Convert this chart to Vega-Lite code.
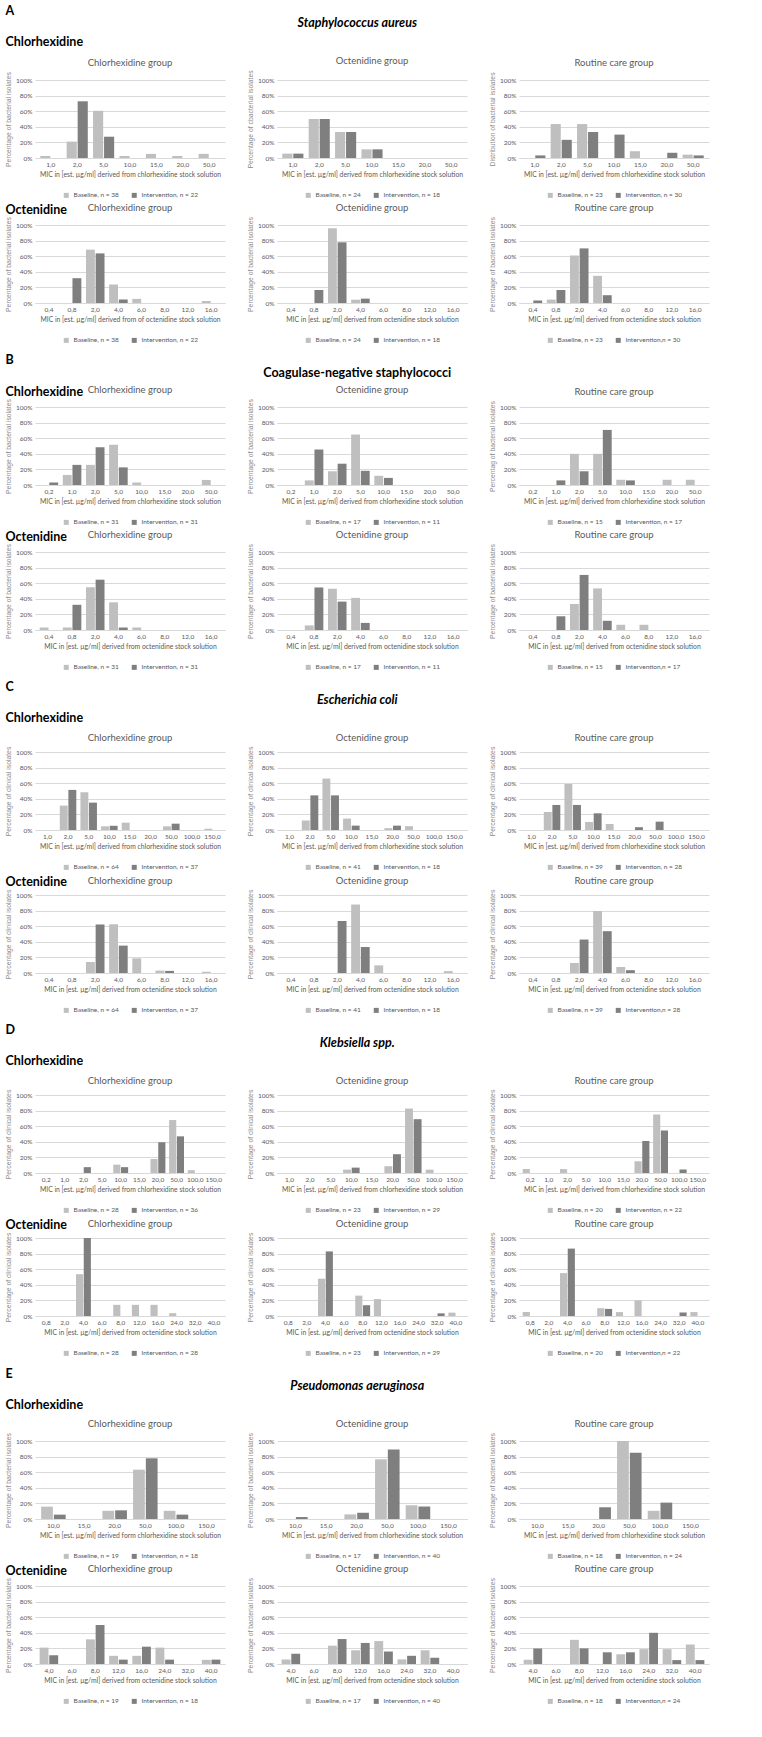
{
"$schema":"https://vega.github.io/schema/vega-lite/v6.json",
"padding":{"left":5,"top":4,"right":5,"bottom":2},
"background":"white",
"data":{"values":[
{"p":"A1a","m":"1,0","s":"Baseline, n = 38","v":2.6},{"p":"A1a","m":"2,0","s":"Baseline, n = 38","v":21},{"p":"A1a","m":"5,0","s":"Baseline, n = 38","v":60.5},{"p":"A1a","m":"10,0","s":"Baseline, n = 38","v":2.6},{"p":"A1a","m":"15,0","s":"Baseline, n = 38","v":5.3},{"p":"A1a","m":"20,0","s":"Baseline, n = 38","v":2.6},{"p":"A1a","m":"50,0","s":"Baseline, n = 38","v":5.3},
{"p":"A1a","m":"2,0","s":"Intervention, n = 22","v":72.7},{"p":"A1a","m":"5,0","s":"Intervention, n = 22","v":27.3},
{"p":"A1b","m":"1,0","s":"Baseline, n = 24","v":5.6},{"p":"A1b","m":"2,0","s":"Baseline, n = 24","v":50},{"p":"A1b","m":"5,0","s":"Baseline, n = 24","v":33.3},{"p":"A1b","m":"10,0","s":"Baseline, n = 24","v":11.1},
{"p":"A1b","m":"1,0","s":"Intervention, n = 18","v":5.6},{"p":"A1b","m":"2,0","s":"Intervention, n = 18","v":50},{"p":"A1b","m":"5,0","s":"Intervention, n = 18","v":33.3},{"p":"A1b","m":"10,0","s":"Intervention, n = 18","v":11.1},
{"p":"A1c","m":"2,0","s":"Baseline, n = 23","v":43.5},{"p":"A1c","m":"5,0","s":"Baseline, n = 23","v":43.5},{"p":"A1c","m":"15,0","s":"Baseline, n = 23","v":8.7},{"p":"A1c","m":"50,0","s":"Baseline, n = 23","v":4.3},
{"p":"A1c","m":"1,0","s":"Intervention, n = 30","v":3.3},{"p":"A1c","m":"2,0","s":"Intervention, n = 30","v":23.3},{"p":"A1c","m":"5,0","s":"Intervention, n = 30","v":33.3},{"p":"A1c","m":"10,0","s":"Intervention, n = 30","v":30},{"p":"A1c","m":"20,0","s":"Intervention, n = 30","v":6.7},{"p":"A1c","m":"50,0","s":"Intervention, n = 30","v":3.3},
{"p":"A2a","m":"2,0","s":"Baseline, n = 38","v":68.4},{"p":"A2a","m":"4,0","s":"Baseline, n = 38","v":23.7},{"p":"A2a","m":"6,0","s":"Baseline, n = 38","v":5.3},{"p":"A2a","m":"16,0","s":"Baseline, n = 38","v":2.6},
{"p":"A2a","m":"0,8","s":"Intervention, n = 22","v":31.8},{"p":"A2a","m":"2,0","s":"Intervention, n = 22","v":63.6},{"p":"A2a","m":"4,0","s":"Intervention, n = 22","v":4.5},
{"p":"A2b","m":"2,0","s":"Baseline, n = 24","v":95.8},{"p":"A2b","m":"4,0","s":"Baseline, n = 24","v":4.2},
{"p":"A2b","m":"0,8","s":"Intervention, n = 18","v":16.7},{"p":"A2b","m":"2,0","s":"Intervention, n = 18","v":77.8},{"p":"A2b","m":"4,0","s":"Intervention, n = 18","v":5.6},
{"p":"A2c","m":"0,8","s":"Baseline, n = 23","v":4.3},{"p":"A2c","m":"2,0","s":"Baseline, n = 23","v":60.9},{"p":"A2c","m":"4,0","s":"Baseline, n = 23","v":34.8},
{"p":"A2c","m":"0,4","s":"Intervention,n = 30","v":3.3},{"p":"A2c","m":"0,8","s":"Intervention,n = 30","v":16.7},{"p":"A2c","m":"2,0","s":"Intervention,n = 30","v":70},{"p":"A2c","m":"4,0","s":"Intervention,n = 30","v":10},
{"p":"B1a","m":"1,0","s":"Baseline, n = 31","v":12.9},{"p":"B1a","m":"2,0","s":"Baseline, n = 31","v":25.8},{"p":"B1a","m":"5,0","s":"Baseline, n = 31","v":51.6},{"p":"B1a","m":"10,0","s":"Baseline, n = 31","v":3.2},{"p":"B1a","m":"50,0","s":"Baseline, n = 31","v":6.5},
{"p":"B1a","m":"0,2","s":"Intervention, n = 31","v":3.2},{"p":"B1a","m":"1,0","s":"Intervention, n = 31","v":25.8},{"p":"B1a","m":"2,0","s":"Intervention, n = 31","v":48.4},{"p":"B1a","m":"5,0","s":"Intervention, n = 31","v":22.6},
{"p":"B1b","m":"1,0","s":"Baseline, n = 17","v":5.9},{"p":"B1b","m":"2,0","s":"Baseline, n = 17","v":17.6},{"p":"B1b","m":"5,0","s":"Baseline, n = 17","v":64.7},{"p":"B1b","m":"10,0","s":"Baseline, n = 17","v":11.8},
{"p":"B1b","m":"1,0","s":"Intervention, n = 11","v":45.5},{"p":"B1b","m":"2,0","s":"Intervention, n = 11","v":27.3},{"p":"B1b","m":"5,0","s":"Intervention, n = 11","v":18.2},{"p":"B1b","m":"10,0","s":"Intervention, n = 11","v":9.1},
{"p":"B1c","m":"2,0","s":"Baseline, n = 15","v":40},{"p":"B1c","m":"5,0","s":"Baseline, n = 15","v":40},{"p":"B1c","m":"10,0","s":"Baseline, n = 15","v":6.7},{"p":"B1c","m":"20,0","s":"Baseline, n = 15","v":6.7},{"p":"B1c","m":"50,0","s":"Baseline, n = 15","v":6.7},
{"p":"B1c","m":"1,0","s":"Intervention, n = 17","v":5.9},{"p":"B1c","m":"2,0","s":"Intervention, n = 17","v":17.6},{"p":"B1c","m":"5,0","s":"Intervention, n = 17","v":70.6},{"p":"B1c","m":"10,0","s":"Intervention, n = 17","v":5.9},
{"p":"B2a","m":"0,4","s":"Baseline, n = 31","v":3.2},{"p":"B2a","m":"0,8","s":"Baseline, n = 31","v":3.2},{"p":"B2a","m":"2,0","s":"Baseline, n = 31","v":54.8},{"p":"B2a","m":"4,0","s":"Baseline, n = 31","v":35.5},{"p":"B2a","m":"6,0","s":"Baseline, n = 31","v":3.2},
{"p":"B2a","m":"0,8","s":"Intervention, n = 31","v":32.3},{"p":"B2a","m":"2,0","s":"Intervention, n = 31","v":64.5},{"p":"B2a","m":"4,0","s":"Intervention, n = 31","v":3.2},
{"p":"B2b","m":"0,8","s":"Baseline, n = 17","v":5.9},{"p":"B2b","m":"2,0","s":"Baseline, n = 17","v":52.9},{"p":"B2b","m":"4,0","s":"Baseline, n = 17","v":41.2},
{"p":"B2b","m":"0,8","s":"Intervention, n = 11","v":54.5},{"p":"B2b","m":"2,0","s":"Intervention, n = 11","v":36.4},{"p":"B2b","m":"4,0","s":"Intervention, n = 11","v":9.1},
{"p":"B2c","m":"2,0","s":"Baseline, n = 15","v":33.3},{"p":"B2c","m":"4,0","s":"Baseline, n = 15","v":53.3},{"p":"B2c","m":"6,0","s":"Baseline, n = 15","v":6.7},{"p":"B2c","m":"8,0","s":"Baseline, n = 15","v":6.7},
{"p":"B2c","m":"0,8","s":"Intervention,n = 17","v":17.6},{"p":"B2c","m":"2,0","s":"Intervention,n = 17","v":70.6},{"p":"B2c","m":"4,0","s":"Intervention,n = 17","v":11.8},
{"p":"C1a","m":"2,0","s":"Baseline, n = 64","v":31.3},{"p":"C1a","m":"5,0","s":"Baseline, n = 64","v":48.4},{"p":"C1a","m":"10,0","s":"Baseline, n = 64","v":4.7},{"p":"C1a","m":"15,0","s":"Baseline, n = 64","v":9.4},{"p":"C1a","m":"50,0","s":"Baseline, n = 64","v":4.7},{"p":"C1a","m":"150,0","s":"Baseline, n = 64","v":1.6},
{"p":"C1a","m":"2,0","s":"Intervention, n = 37","v":51.4},{"p":"C1a","m":"5,0","s":"Intervention, n = 37","v":35.1},{"p":"C1a","m":"10,0","s":"Intervention, n = 37","v":5.4},{"p":"C1a","m":"50,0","s":"Intervention, n = 37","v":8.1},
{"p":"C1b","m":"2,0","s":"Baseline, n = 41","v":12.2},{"p":"C1b","m":"5,0","s":"Baseline, n = 41","v":65.9},{"p":"C1b","m":"10,0","s":"Baseline, n = 41","v":14.6},{"p":"C1b","m":"20,0","s":"Baseline, n = 41","v":2.4},{"p":"C1b","m":"50,0","s":"Baseline, n = 41","v":4.9},
{"p":"C1b","m":"2,0","s":"Intervention, n = 18","v":44.4},{"p":"C1b","m":"5,0","s":"Intervention, n = 18","v":44.4},{"p":"C1b","m":"10,0","s":"Intervention, n = 18","v":5.6},{"p":"C1b","m":"20,0","s":"Intervention, n = 18","v":5.6},
{"p":"C1c","m":"2,0","s":"Baseline, n = 39","v":23.1},{"p":"C1c","m":"5,0","s":"Baseline, n = 39","v":59},{"p":"C1c","m":"10,0","s":"Baseline, n = 39","v":10.3},{"p":"C1c","m":"15,0","s":"Baseline, n = 39","v":7.7},
{"p":"C1c","m":"2,0","s":"Intervention, n = 28","v":32.1},{"p":"C1c","m":"5,0","s":"Intervention, n = 28","v":32.1},{"p":"C1c","m":"10,0","s":"Intervention, n = 28","v":21.4},{"p":"C1c","m":"20,0","s":"Intervention, n = 28","v":3.6},{"p":"C1c","m":"50,0","s":"Intervention, n = 28","v":10.7},
{"p":"C2a","m":"2,0","s":"Baseline, n = 64","v":14.1},{"p":"C2a","m":"4,0","s":"Baseline, n = 64","v":62.5},{"p":"C2a","m":"6,0","s":"Baseline, n = 64","v":18.8},{"p":"C2a","m":"8,0","s":"Baseline, n = 64","v":3.1},{"p":"C2a","m":"16,0","s":"Baseline, n = 64","v":1.6},
{"p":"C2a","m":"2,0","s":"Intervention, n = 37","v":62.2},{"p":"C2a","m":"4,0","s":"Intervention, n = 37","v":35.1},{"p":"C2a","m":"8,0","s":"Intervention, n = 37","v":2.7},
{"p":"C2b","m":"4,0","s":"Baseline, n = 41","v":87.8},{"p":"C2b","m":"6,0","s":"Baseline, n = 41","v":9.8},{"p":"C2b","m":"16,0","s":"Baseline, n = 41","v":2.4},
{"p":"C2b","m":"2,0","s":"Intervention, n = 18","v":66.7},{"p":"C2b","m":"4,0","s":"Intervention, n = 18","v":33.3},
{"p":"C2c","m":"2,0","s":"Baseline, n = 39","v":12.8},{"p":"C2c","m":"4,0","s":"Baseline, n = 39","v":79.5},{"p":"C2c","m":"6,0","s":"Baseline, n = 39","v":7.7},
{"p":"C2c","m":"2,0","s":"Intervention,n = 28","v":42.9},{"p":"C2c","m":"4,0","s":"Intervention,n = 28","v":53.6},{"p":"C2c","m":"6,0","s":"Intervention,n = 28","v":3.6},
{"p":"D1a","m":"10,0","s":"Baseline, n = 28","v":10.7},{"p":"D1a","m":"20,0","s":"Baseline, n = 28","v":17.9},{"p":"D1a","m":"50,0","s":"Baseline, n = 28","v":67.9},{"p":"D1a","m":"100,0","s":"Baseline, n = 28","v":3.6},
{"p":"D1a","m":"2,0","s":"Intervention, n = 36","v":7.5},{"p":"D1a","m":"10,0","s":"Intervention, n = 36","v":7.5},{"p":"D1a","m":"20,0","s":"Intervention, n = 36","v":39.5},{"p":"D1a","m":"50,0","s":"Intervention, n = 36","v":47},
{"p":"D1b","m":"10,0","s":"Baseline, n = 23","v":4.3},{"p":"D1b","m":"20,0","s":"Baseline, n = 23","v":8.7},{"p":"D1b","m":"50,0","s":"Baseline, n = 23","v":82.6},{"p":"D1b","m":"100,0","s":"Baseline, n = 23","v":4.3},
{"p":"D1b","m":"10,0","s":"Intervention, n = 29","v":6.9},{"p":"D1b","m":"20,0","s":"Intervention, n = 29","v":24.1},{"p":"D1b","m":"50,0","s":"Intervention, n = 29","v":69},
{"p":"D1c","m":"0,2","s":"Baseline, n = 20","v":5},{"p":"D1c","m":"2,0","s":"Baseline, n = 20","v":5},{"p":"D1c","m":"20,0","s":"Baseline, n = 20","v":15},{"p":"D1c","m":"50,0","s":"Baseline, n = 20","v":75},
{"p":"D1c","m":"20,0","s":"Intervention, n = 22","v":40.9},{"p":"D1c","m":"50,0","s":"Intervention, n = 22","v":54.5},{"p":"D1c","m":"100,0","s":"Intervention, n = 22","v":4.5},
{"p":"D2a","m":"4,0","s":"Baseline, n = 28","v":53.6},{"p":"D2a","m":"8,0","s":"Baseline, n = 28","v":14.3},{"p":"D2a","m":"12,0","s":"Baseline, n = 28","v":14.3},{"p":"D2a","m":"16,0","s":"Baseline, n = 28","v":14.3},{"p":"D2a","m":"24,0","s":"Baseline, n = 28","v":3.6},
{"p":"D2a","m":"4,0","s":"Intervention, n = 28","v":100},
{"p":"D2b","m":"4,0","s":"Baseline, n = 23","v":47.8},{"p":"D2b","m":"8,0","s":"Baseline, n = 23","v":26.1},{"p":"D2b","m":"12,0","s":"Baseline, n = 23","v":21.7},{"p":"D2b","m":"40,0","s":"Baseline, n = 23","v":4.3},
{"p":"D2b","m":"4,0","s":"Intervention, n = 29","v":82.8},{"p":"D2b","m":"8,0","s":"Intervention, n = 29","v":13.8},{"p":"D2b","m":"32,0","s":"Intervention, n = 29","v":3.4},
{"p":"D2c","m":"0,8","s":"Baseline, n = 20","v":5},{"p":"D2c","m":"4,0","s":"Baseline, n = 20","v":55},{"p":"D2c","m":"8,0","s":"Baseline, n = 20","v":10},{"p":"D2c","m":"12,0","s":"Baseline, n = 20","v":5},{"p":"D2c","m":"16,0","s":"Baseline, n = 20","v":20},{"p":"D2c","m":"40,0","s":"Baseline, n = 20","v":5},
{"p":"D2c","m":"4,0","s":"Intervention,n = 22","v":86.4},{"p":"D2c","m":"8,0","s":"Intervention,n = 22","v":9.1},{"p":"D2c","m":"32,0","s":"Intervention,n = 22","v":4.5},
{"p":"E1a","m":"10,0","s":"Baseline, n = 19","v":15.8},{"p":"E1a","m":"20,0","s":"Baseline, n = 19","v":10.5},{"p":"E1a","m":"50,0","s":"Baseline, n = 19","v":63.2},{"p":"E1a","m":"100,0","s":"Baseline, n = 19","v":10.5},
{"p":"E1a","m":"10,0","s":"Intervention, n = 18","v":5.6},{"p":"E1a","m":"20,0","s":"Intervention, n = 18","v":11.1},{"p":"E1a","m":"50,0","s":"Intervention, n = 18","v":77.8},{"p":"E1a","m":"100,0","s":"Intervention, n = 18","v":5.6},
{"p":"E1b","m":"20,0","s":"Baseline, n = 17","v":5.9},{"p":"E1b","m":"50,0","s":"Baseline, n = 17","v":76.5},{"p":"E1b","m":"100,0","s":"Baseline, n = 17","v":17.6},
{"p":"E1b","m":"10,0","s":"Intervention, n = 40","v":2.5},{"p":"E1b","m":"20,0","s":"Intervention, n = 40","v":8},{"p":"E1b","m":"50,0","s":"Intervention, n = 40","v":89},{"p":"E1b","m":"100,0","s":"Intervention, n = 40","v":16},
{"p":"E1c","m":"50,0","s":"Baseline, n = 18","v":100},{"p":"E1c","m":"100,0","s":"Baseline, n = 18","v":10.5},
{"p":"E1c","m":"20,0","s":"Intervention, n = 24","v":15},{"p":"E1c","m":"50,0","s":"Intervention, n = 24","v":85},{"p":"E1c","m":"100,0","s":"Intervention, n = 24","v":21},
{"p":"E2a","m":"4,0","s":"Baseline, n = 19","v":21},{"p":"E2a","m":"8,0","s":"Baseline, n = 19","v":31.6},{"p":"E2a","m":"12,0","s":"Baseline, n = 19","v":10.5},{"p":"E2a","m":"16,0","s":"Baseline, n = 19","v":10.5},{"p":"E2a","m":"24,0","s":"Baseline, n = 19","v":21},{"p":"E2a","m":"40,0","s":"Baseline, n = 19","v":5.3},
{"p":"E2a","m":"4,0","s":"Intervention, n = 18","v":11.1},{"p":"E2a","m":"8,0","s":"Intervention, n = 18","v":50},{"p":"E2a","m":"12,0","s":"Intervention, n = 18","v":5.6},{"p":"E2a","m":"16,0","s":"Intervention, n = 18","v":22.2},{"p":"E2a","m":"24,0","s":"Intervention, n = 18","v":5.6},{"p":"E2a","m":"40,0","s":"Intervention, n = 18","v":5.6},
{"p":"E2b","m":"4,0","s":"Baseline, n = 17","v":5.9},{"p":"E2b","m":"8,0","s":"Baseline, n = 17","v":23.5},{"p":"E2b","m":"12,0","s":"Baseline, n = 17","v":17.6},{"p":"E2b","m":"16,0","s":"Baseline, n = 17","v":29.4},{"p":"E2b","m":"24,0","s":"Baseline, n = 17","v":5.9},{"p":"E2b","m":"32,0","s":"Baseline, n = 17","v":17.6},
{"p":"E2b","m":"4,0","s":"Intervention, n = 40","v":13},{"p":"E2b","m":"8,0","s":"Intervention, n = 40","v":32},{"p":"E2b","m":"12,0","s":"Intervention, n = 40","v":27},{"p":"E2b","m":"16,0","s":"Intervention, n = 40","v":16},{"p":"E2b","m":"24,0","s":"Intervention, n = 40","v":10.5},{"p":"E2b","m":"32,0","s":"Intervention, n = 40","v":8},
{"p":"E2c","m":"4,0","s":"Baseline, n = 18","v":5.6},{"p":"E2c","m":"8,0","s":"Baseline, n = 18","v":31},{"p":"E2c","m":"16,0","s":"Baseline, n = 18","v":12.5},{"p":"E2c","m":"24,0","s":"Baseline, n = 18","v":19},{"p":"E2c","m":"32,0","s":"Baseline, n = 18","v":19},{"p":"E2c","m":"40,0","s":"Baseline, n = 18","v":25},
{"p":"E2c","m":"4,0","s":"Intervention,n = 24","v":20},{"p":"E2c","m":"8,0","s":"Intervention,n = 24","v":20},{"p":"E2c","m":"12,0","s":"Intervention,n = 24","v":15},{"p":"E2c","m":"16,0","s":"Intervention,n = 24","v":15},{"p":"E2c","m":"24,0","s":"Intervention,n = 24","v":40},{"p":"E2c","m":"32,0","s":"Intervention,n = 24","v":5},{"p":"E2c","m":"40,0","s":"Intervention,n = 24","v":5}
]},
"vconcat":[
{"title":{"text":"A","anchor":"start","fontSize":12.5,"fontWeight":"bold","color":"#000000","offset":0},
 "resolve":{"scale":{"color":"independent","xOffset":"independent"},"legend":{"color":"independent"}},
 "vconcat":[{"title":{"text":"Staphylococcus aureus","anchor":"middle","fontSize":12.5,"fontWeight":"bold","fontStyle":"italic","color":"#000000","offset":6},
  "resolve":{"scale":{"color":"independent","xOffset":"independent"},"legend":{"color":"independent"}},"spacing":4,
  "vconcat":[
  {"title":{"text":"Chlorhexidine","anchor":"start","fontSize":12.5,"fontWeight":"bold","color":"#000000","offset":8},"spacing":22,
   "resolve":{"scale":{"color":"independent","xOffset":"independent"},"legend":{"color":"independent"}},
   "hconcat":[
    {"title":"Chlorhexidine group","width":190,"height":78,"transform":[{"filter":"datum.p=='A1a'"}],"mark":"bar","encoding":{"x":{"field":"m","type":"nominal","title":"MIC in [est. µg/ml] derived from chlorhexidine stock solution","scale":{"domain":["1,0","2,0","5,0","10,0","15,0","20,0","50,0"]}},"xOffset":{"field":"s","type":"nominal"},"y":{"field":"v","type":"quantitative","title":"Percentage of bacterial isolates","scale":{"domain":[0,100]},"axis":{"labelExpr":"datum.value + '%'"}},"color":{"field":"s","type":"nominal","scale":{"range":["#bfbfbf","#7f7f7f"]},"legend":{"title":null}}}},
    {"title":"Octenidine group","width":190,"height":78,"transform":[{"filter":"datum.p=='A1b'"}],"mark":"bar","encoding":{"x":{"field":"m","type":"nominal","title":"MIC in [est. µg/ml] derived from chlorhexidine stock solution","scale":{"domain":["1,0","2,0","5,0","10,0","15,0","20,0","50,0"]}},"xOffset":{"field":"s","type":"nominal"},"y":{"field":"v","type":"quantitative","title":"Percentage of cbacterial isolates","scale":{"domain":[0,100]},"axis":{"labelExpr":"datum.value + '%'"}},"color":{"field":"s","type":"nominal","scale":{"range":["#bfbfbf","#7f7f7f"]},"legend":{"title":null}}}},
    {"title":"Routine care group","width":190,"height":78,"transform":[{"filter":"datum.p=='A1c'"}],"mark":"bar","encoding":{"x":{"field":"m","type":"nominal","title":"MIC in [est. µg/ml] derived from chlorhexidine stock solution","scale":{"domain":["1,0","2,0","5,0","10,0","15,0","20,0","50,0"]}},"xOffset":{"field":"s","type":"nominal"},"y":{"field":"v","type":"quantitative","title":"Distribution of bacterial isolates","scale":{"domain":[0,100]},"axis":{"labelExpr":"datum.value + '%'"}},"color":{"field":"s","type":"nominal","scale":{"range":["#bfbfbf","#7f7f7f"]},"legend":{"title":null}}}}
   ]},
  {"title":{"text":"Octenidine","anchor":"start","fontSize":12.5,"fontWeight":"bold","color":"#000000","offset":-13},"spacing":22,
   "resolve":{"scale":{"color":"independent","xOffset":"independent"},"legend":{"color":"independent"}},
   "hconcat":[
    {"title":"Chlorhexidine group","width":190,"height":78,"transform":[{"filter":"datum.p=='A2a'"}],"mark":"bar","encoding":{"x":{"field":"m","type":"nominal","title":"MIC in [est. µg/ml] derived from of octenidine stock solution","scale":{"domain":["0,4","0,8","2,0","4,0","6,0","8,0","12,0","16,0"]}},"xOffset":{"field":"s","type":"nominal"},"y":{"field":"v","type":"quantitative","title":"Percentage of bacterial isolates","scale":{"domain":[0,100]},"axis":{"labelExpr":"datum.value + '%'"}},"color":{"field":"s","type":"nominal","scale":{"range":["#bfbfbf","#7f7f7f"]},"legend":{"title":null}}}},
    {"title":"Octenidine group","width":190,"height":78,"transform":[{"filter":"datum.p=='A2b'"}],"mark":"bar","encoding":{"x":{"field":"m","type":"nominal","title":"MIC in [est. µg/ml] derived from octenidine stock solution","scale":{"domain":["0,4","0,8","2,0","4,0","6,0","8,0","12,0","16,0"]}},"xOffset":{"field":"s","type":"nominal"},"y":{"field":"v","type":"quantitative","title":"Percentage of bacterial isolates","scale":{"domain":[0,100]},"axis":{"labelExpr":"datum.value + '%'"}},"color":{"field":"s","type":"nominal","scale":{"range":["#bfbfbf","#7f7f7f"]},"legend":{"title":null}}}},
    {"title":"Routine care group","width":190,"height":78,"transform":[{"filter":"datum.p=='A2c'"}],"mark":"bar","encoding":{"x":{"field":"m","type":"nominal","title":"MIC in [est. µg/ml] derived from octenidine stock solution","scale":{"domain":["0,4","0,8","2,0","4,0","6,0","8,0","12,0","16,0"]}},"xOffset":{"field":"s","type":"nominal"},"y":{"field":"v","type":"quantitative","title":"Percentage of bacterial isolates","scale":{"domain":[0,100]},"axis":{"labelExpr":"datum.value + '%'"}},"color":{"field":"s","type":"nominal","scale":{"range":["#bfbfbf","#7f7f7f"]},"legend":{"title":null}}}}
   ]}
  ]}]},
{"title":{"text":"B","anchor":"start","fontSize":12.5,"fontWeight":"bold","color":"#000000","offset":0},
 "resolve":{"scale":{"color":"independent","xOffset":"independent"},"legend":{"color":"independent"}},
 "vconcat":[{"title":{"text":"Coagulase-negative staphylococci","anchor":"middle","fontSize":12.5,"fontWeight":"bold","color":"#000000","offset":6},
  "resolve":{"scale":{"color":"independent","xOffset":"independent"},"legend":{"color":"independent"}},"spacing":4,
  "vconcat":[
  {"title":{"text":"Chlorhexidine","anchor":"start","fontSize":12.5,"fontWeight":"bold","color":"#000000","offset":-13},"spacing":22,
   "resolve":{"scale":{"color":"independent","xOffset":"independent"},"legend":{"color":"independent"}},
   "hconcat":[
    {"title":"Chlorhexidine group","width":190,"height":78,"transform":[{"filter":"datum.p=='B1a'"}],"mark":"bar","encoding":{"x":{"field":"m","type":"nominal","title":"MIC in [est. µg/ml] derived  from chlorhexidine stock solution","scale":{"domain":["0,2","1,0","2,0","5,0","10,0","15,0","20,0","50,0"]}},"xOffset":{"field":"s","type":"nominal"},"y":{"field":"v","type":"quantitative","title":"Percentage of bacterial isolates","scale":{"domain":[0,100]},"axis":{"labelExpr":"datum.value + '%'"}},"color":{"field":"s","type":"nominal","scale":{"range":["#bfbfbf","#7f7f7f"]},"legend":{"title":null}}}},
    {"title":"Octenidine group","width":190,"height":78,"transform":[{"filter":"datum.p=='B1b'"}],"mark":"bar","encoding":{"x":{"field":"m","type":"nominal","title":"MIC in [est. µg/ml] derived from chlorhexidine stock solution","scale":{"domain":["0,2","1,0","2,0","5,0","10,0","15,0","20,0","50,0"]}},"xOffset":{"field":"s","type":"nominal"},"y":{"field":"v","type":"quantitative","title":"Percentage of bacterial isolates","scale":{"domain":[0,100]},"axis":{"labelExpr":"datum.value + '%'"}},"color":{"field":"s","type":"nominal","scale":{"range":["#bfbfbf","#7f7f7f"]},"legend":{"title":null}}}},
    {"title":"Routine care group","width":190,"height":78,"transform":[{"filter":"datum.p=='B1c'"}],"mark":"bar","encoding":{"x":{"field":"m","type":"nominal","title":"MIC in [est. µg/ml] derived from chlorhexidine stock solution","scale":{"domain":["0,2","1,0","2,0","5,0","10,0","15,0","20,0","50,0"]}},"xOffset":{"field":"s","type":"nominal"},"y":{"field":"v","type":"quantitative","title":"Percentag of bacterial isolates","scale":{"domain":[0,100]},"axis":{"labelExpr":"datum.value + '%'"}},"color":{"field":"s","type":"nominal","scale":{"range":["#bfbfbf","#7f7f7f"]},"legend":{"title":null}}}}
   ]},
  {"title":{"text":"Octenidine","anchor":"start","fontSize":12.5,"fontWeight":"bold","color":"#000000","offset":-13},"spacing":22,
   "resolve":{"scale":{"color":"independent","xOffset":"independent"},"legend":{"color":"independent"}},
   "hconcat":[
    {"title":"Chlorhexidine group","width":190,"height":78,"transform":[{"filter":"datum.p=='B2a'"}],"mark":"bar","encoding":{"x":{"field":"m","type":"nominal","title":"MIC in [est. µg/ml] derived from octenidine stock solution","scale":{"domain":["0,4","0,8","2,0","4,0","6,0","8,0","12,0","16,0"]}},"xOffset":{"field":"s","type":"nominal"},"y":{"field":"v","type":"quantitative","title":"Percentage of bacterial isolates","scale":{"domain":[0,100]},"axis":{"labelExpr":"datum.value + '%'"}},"color":{"field":"s","type":"nominal","scale":{"range":["#bfbfbf","#7f7f7f"]},"legend":{"title":null}}}},
    {"title":"Octenidine group","width":190,"height":78,"transform":[{"filter":"datum.p=='B2b'"}],"mark":"bar","encoding":{"x":{"field":"m","type":"nominal","title":"MIC in [est. µg/ml] derived from  octenidine stock solution","scale":{"domain":["0,4","0,8","2,0","4,0","6,0","8,0","12,0","16,0"]}},"xOffset":{"field":"s","type":"nominal"},"y":{"field":"v","type":"quantitative","title":"Percentage of bacterial isolates","scale":{"domain":[0,100]},"axis":{"labelExpr":"datum.value + '%'"}},"color":{"field":"s","type":"nominal","scale":{"range":["#bfbfbf","#7f7f7f"]},"legend":{"title":null}}}},
    {"title":"Routine care group","width":190,"height":78,"transform":[{"filter":"datum.p=='B2c'"}],"mark":"bar","encoding":{"x":{"field":"m","type":"nominal","title":"MIC in [est. µg/ml] derived from octenidine stock solution","scale":{"domain":["0,4","0,8","2,0","4,0","6,0","8,0","12,0","16,0"]}},"xOffset":{"field":"s","type":"nominal"},"y":{"field":"v","type":"quantitative","title":"Percentage of bacterial isolates","scale":{"domain":[0,100]},"axis":{"labelExpr":"datum.value + '%'"}},"color":{"field":"s","type":"nominal","scale":{"range":["#bfbfbf","#7f7f7f"]},"legend":{"title":null}}}}
   ]}
  ]}]},
{"title":{"text":"C","anchor":"start","fontSize":12.5,"fontWeight":"bold","color":"#000000","offset":0},
 "resolve":{"scale":{"color":"independent","xOffset":"independent"},"legend":{"color":"independent"}},
 "vconcat":[{"title":{"text":"Escherichia coli","anchor":"middle","fontSize":12.5,"fontWeight":"bold","fontStyle":"italic","color":"#000000","offset":6},
  "resolve":{"scale":{"color":"independent","xOffset":"independent"},"legend":{"color":"independent"}},"spacing":4,
  "vconcat":[
  {"title":{"text":"Chlorhexidine","anchor":"start","fontSize":12.5,"fontWeight":"bold","color":"#000000","offset":8},"spacing":22,
   "resolve":{"scale":{"color":"independent","xOffset":"independent"},"legend":{"color":"independent"}},
   "hconcat":[
    {"title":"Chlorhexidine group","width":190,"height":78,"transform":[{"filter":"datum.p=='C1a'"}],"mark":"bar","encoding":{"x":{"field":"m","type":"nominal","title":"MIC in [est. µg/ml] derived from chlorhexidine stock solution","scale":{"domain":["1,0","2,0","5,0","10,0","15,0","20,0","50,0","100,0","150,0"]}},"xOffset":{"field":"s","type":"nominal"},"y":{"field":"v","type":"quantitative","title":"Percentage of clinical isolates","scale":{"domain":[0,100]},"axis":{"labelExpr":"datum.value + '%'"}},"color":{"field":"s","type":"nominal","scale":{"range":["#bfbfbf","#7f7f7f"]},"legend":{"title":null}}}},
    {"title":"Octenidine group","width":190,"height":78,"transform":[{"filter":"datum.p=='C1b'"}],"mark":"bar","encoding":{"x":{"field":"m","type":"nominal","title":"MIC in [est. µg/ml] derived from chlorhexidine stock solution","scale":{"domain":["1,0","2,0","5,0","10,0","15,0","20,0","50,0","100,0","150,0"]}},"xOffset":{"field":"s","type":"nominal"},"y":{"field":"v","type":"quantitative","title":"Percentage of clinical isolates","scale":{"domain":[0,100]},"axis":{"labelExpr":"datum.value + '%'"}},"color":{"field":"s","type":"nominal","scale":{"range":["#bfbfbf","#7f7f7f"]},"legend":{"title":null}}}},
    {"title":"Routine care group","width":190,"height":78,"transform":[{"filter":"datum.p=='C1c'"}],"mark":"bar","encoding":{"x":{"field":"m","type":"nominal","title":"MIC in [est. µg/ml] derived from chlorhexidine stock solution","scale":{"domain":["1,0","2,0","5,0","10,0","15,0","20,0","50,0","100,0","150,0"]}},"xOffset":{"field":"s","type":"nominal"},"y":{"field":"v","type":"quantitative","title":"Percentage of clinical isolates","scale":{"domain":[0,100]},"axis":{"labelExpr":"datum.value + '%'"}},"color":{"field":"s","type":"nominal","scale":{"range":["#bfbfbf","#7f7f7f"]},"legend":{"title":null}}}}
   ]},
  {"title":{"text":"Octenidine","anchor":"start","fontSize":12.5,"fontWeight":"bold","color":"#000000","offset":-13},"spacing":22,
   "resolve":{"scale":{"color":"independent","xOffset":"independent"},"legend":{"color":"independent"}},
   "hconcat":[
    {"title":"Chlorhexidine group","width":190,"height":78,"transform":[{"filter":"datum.p=='C2a'"}],"mark":"bar","encoding":{"x":{"field":"m","type":"nominal","title":"MIC in [est. µg/ml] derived from octenidine stock solution","scale":{"domain":["0,4","0,8","2,0","4,0","6,0","8,0","12,0","16,0"]}},"xOffset":{"field":"s","type":"nominal"},"y":{"field":"v","type":"quantitative","title":"Percentage of clinical isolates","scale":{"domain":[0,100]},"axis":{"labelExpr":"datum.value + '%'"}},"color":{"field":"s","type":"nominal","scale":{"range":["#bfbfbf","#7f7f7f"]},"legend":{"title":null}}}},
    {"title":"Octenidine group","width":190,"height":78,"transform":[{"filter":"datum.p=='C2b'"}],"mark":"bar","encoding":{"x":{"field":"m","type":"nominal","title":"MIC in [est. µg/ml] derived from octenidine stock solution","scale":{"domain":["0,4","0,8","2,0","4,0","6,0","8,0","12,0","16,0"]}},"xOffset":{"field":"s","type":"nominal"},"y":{"field":"v","type":"quantitative","title":"Percentage of clinical isolates","scale":{"domain":[0,100]},"axis":{"labelExpr":"datum.value + '%'"}},"color":{"field":"s","type":"nominal","scale":{"range":["#bfbfbf","#7f7f7f"]},"legend":{"title":null}}}},
    {"title":"Routine care group","width":190,"height":78,"transform":[{"filter":"datum.p=='C2c'"}],"mark":"bar","encoding":{"x":{"field":"m","type":"nominal","title":"MIC in [est. µg/ml] derived from octenidine stock solution","scale":{"domain":["0,4","0,8","2,0","4,0","6,0","8,0","12,0","16,0"]}},"xOffset":{"field":"s","type":"nominal"},"y":{"field":"v","type":"quantitative","title":"Percentage of clinical isolates","scale":{"domain":[0,100]},"axis":{"labelExpr":"datum.value + '%'"}},"color":{"field":"s","type":"nominal","scale":{"range":["#bfbfbf","#7f7f7f"]},"legend":{"title":null}}}}
   ]}
  ]}]},
{"title":{"text":"D","anchor":"start","fontSize":12.5,"fontWeight":"bold","color":"#000000","offset":0},
 "resolve":{"scale":{"color":"independent","xOffset":"independent"},"legend":{"color":"independent"}},
 "vconcat":[{"title":{"text":"Klebsiella spp.","anchor":"middle","fontSize":12.5,"fontWeight":"bold","fontStyle":"italic","color":"#000000","offset":6},
  "resolve":{"scale":{"color":"independent","xOffset":"independent"},"legend":{"color":"independent"}},"spacing":4,
  "vconcat":[
  {"title":{"text":"Chlorhexidine","anchor":"start","fontSize":12.5,"fontWeight":"bold","color":"#000000","offset":8},"spacing":22,
   "resolve":{"scale":{"color":"independent","xOffset":"independent"},"legend":{"color":"independent"}},
   "hconcat":[
    {"title":"Chlorhexidine group","width":190,"height":78,"transform":[{"filter":"datum.p=='D1a'"}],"mark":"bar","encoding":{"x":{"field":"m","type":"nominal","title":"MIC in [est. µg/ml] derived from chlorhexidine stock solution","scale":{"domain":["0,2","1,0","2,0","5,0","10,0","15,0","20,0","50,0","100,0","150,0"]}},"xOffset":{"field":"s","type":"nominal"},"y":{"field":"v","type":"quantitative","title":"Percentage of clinical isolates","scale":{"domain":[0,100]},"axis":{"labelExpr":"datum.value + '%'"}},"color":{"field":"s","type":"nominal","scale":{"range":["#bfbfbf","#7f7f7f"]},"legend":{"title":null}}}},
    {"title":"Octenidine group","width":190,"height":78,"transform":[{"filter":"datum.p=='D1b'"}],"mark":"bar","encoding":{"x":{"field":"m","type":"nominal","title":"MIC in [est. µg/ml] derived from chlorhexidine stock solution","scale":{"domain":["1,0","2,0","5,0","10,0","15,0","20,0","50,0","100,0","150,0"]}},"xOffset":{"field":"s","type":"nominal"},"y":{"field":"v","type":"quantitative","title":"Percentage of clinical isolates","scale":{"domain":[0,100]},"axis":{"labelExpr":"datum.value + '%'"}},"color":{"field":"s","type":"nominal","scale":{"range":["#bfbfbf","#7f7f7f"]},"legend":{"title":null}}}},
    {"title":"Routine care group","width":190,"height":78,"transform":[{"filter":"datum.p=='D1c'"}],"mark":"bar","encoding":{"x":{"field":"m","type":"nominal","title":"MIC in [est. µg/ml] derived from chlorhexidine stock solution","scale":{"domain":["0,2","1,0","2,0","5,0","10,0","15,0","20,0","50,0","100,0","150,0"]}},"xOffset":{"field":"s","type":"nominal"},"y":{"field":"v","type":"quantitative","title":"Percentage of clinical isolates","scale":{"domain":[0,100]},"axis":{"labelExpr":"datum.value + '%'"}},"color":{"field":"s","type":"nominal","scale":{"range":["#bfbfbf","#7f7f7f"]},"legend":{"title":null}}}}
   ]},
  {"title":{"text":"Octenidine","anchor":"start","fontSize":12.5,"fontWeight":"bold","color":"#000000","offset":-13},"spacing":22,
   "resolve":{"scale":{"color":"independent","xOffset":"independent"},"legend":{"color":"independent"}},
   "hconcat":[
    {"title":"Chlorhexidine group","width":190,"height":78,"transform":[{"filter":"datum.p=='D2a'"}],"mark":"bar","encoding":{"x":{"field":"m","type":"nominal","title":"MIC in [est. µg/ml] derived from octenidine stock solution","scale":{"domain":["0,8","2,0","4,0","6,0","8,0","12,0","16,0","24,0","32,0","40,0"]}},"xOffset":{"field":"s","type":"nominal"},"y":{"field":"v","type":"quantitative","title":"Percentage of clinical isolates","scale":{"domain":[0,100]},"axis":{"labelExpr":"datum.value + '%'"}},"color":{"field":"s","type":"nominal","scale":{"range":["#bfbfbf","#7f7f7f"]},"legend":{"title":null}}}},
    {"title":"Octenidine group","width":190,"height":78,"transform":[{"filter":"datum.p=='D2b'"}],"mark":"bar","encoding":{"x":{"field":"m","type":"nominal","title":"MIC in [est. µg/ml] derived from octenidine stock solution","scale":{"domain":["0,8","2,0","4,0","6,0","8,0","12,0","16,0","24,0","32,0","40,0"]}},"xOffset":{"field":"s","type":"nominal"},"y":{"field":"v","type":"quantitative","title":"Percentage of clinical isolates","scale":{"domain":[0,100]},"axis":{"labelExpr":"datum.value + '%'"}},"color":{"field":"s","type":"nominal","scale":{"range":["#bfbfbf","#7f7f7f"]},"legend":{"title":null}}}},
    {"title":"Routine care group","width":190,"height":78,"transform":[{"filter":"datum.p=='D2c'"}],"mark":"bar","encoding":{"x":{"field":"m","type":"nominal","title":"MIC in [est. µg/ml] derived from octenidine stock solution","scale":{"domain":["0,8","2,0","4,0","6,0","8,0","12,0","16,0","24,0","32,0","40,0"]}},"xOffset":{"field":"s","type":"nominal"},"y":{"field":"v","type":"quantitative","title":"Percentage of clinical isolates","scale":{"domain":[0,100]},"axis":{"labelExpr":"datum.value + '%'"}},"color":{"field":"s","type":"nominal","scale":{"range":["#bfbfbf","#7f7f7f"]},"legend":{"title":null}}}}
   ]}
  ]}]},
{"title":{"text":"E","anchor":"start","fontSize":12.5,"fontWeight":"bold","color":"#000000","offset":0},
 "resolve":{"scale":{"color":"independent","xOffset":"independent"},"legend":{"color":"independent"}},
 "vconcat":[{"title":{"text":"Pseudomonas aeruginosa","anchor":"middle","fontSize":12.5,"fontWeight":"bold","fontStyle":"italic","color":"#000000","offset":6},
  "resolve":{"scale":{"color":"independent","xOffset":"independent"},"legend":{"color":"independent"}},"spacing":4,
  "vconcat":[
  {"title":{"text":"Chlorhexidine","anchor":"start","fontSize":12.5,"fontWeight":"bold","color":"#000000","offset":8},"spacing":22,
   "resolve":{"scale":{"color":"independent","xOffset":"independent"},"legend":{"color":"independent"}},
   "hconcat":[
    {"title":"Chlorhexidine group","width":190,"height":78,"transform":[{"filter":"datum.p=='E1a'"}],"mark":"bar","encoding":{"x":{"field":"m","type":"nominal","title":"MIC in [est. µg/ml] derived form chlorhexidine stock solution","scale":{"domain":["10,0","15,0","20,0","50,0","100,0","150,0"]}},"xOffset":{"field":"s","type":"nominal"},"y":{"field":"v","type":"quantitative","title":"Percentage of bacterial isolates","scale":{"domain":[0,100]},"axis":{"labelExpr":"datum.value + '%'"}},"color":{"field":"s","type":"nominal","scale":{"range":["#bfbfbf","#7f7f7f"]},"legend":{"title":null}}}},
    {"title":"Octenidine group","width":190,"height":78,"transform":[{"filter":"datum.p=='E1b'"}],"mark":"bar","encoding":{"x":{"field":"m","type":"nominal","title":"MIC in [est. µg/ml] derived from chlorhexidine stock solution","scale":{"domain":["10,0","15,0","20,0","50,0","100,0","150,0"]}},"xOffset":{"field":"s","type":"nominal"},"y":{"field":"v","type":"quantitative","title":"Percentage of bacterial isolates","scale":{"domain":[0,100]},"axis":{"labelExpr":"datum.value + '%'"}},"color":{"field":"s","type":"nominal","scale":{"range":["#bfbfbf","#7f7f7f"]},"legend":{"title":null}}}},
    {"title":"Routine care group","width":190,"height":78,"transform":[{"filter":"datum.p=='E1c'"}],"mark":"bar","encoding":{"x":{"field":"m","type":"nominal","title":"MIC in [est. µg/ml] derived from chlorhexidine stock solution","scale":{"domain":["10,0","15,0","20,0","50,0","100,0","150,0"]}},"xOffset":{"field":"s","type":"nominal"},"y":{"field":"v","type":"quantitative","title":"Percentage of bacterial isolates","scale":{"domain":[0,100]},"axis":{"labelExpr":"datum.value + '%'"}},"color":{"field":"s","type":"nominal","scale":{"range":["#bfbfbf","#7f7f7f"]},"legend":{"title":null}}}}
   ]},
  {"title":{"text":"Octenidine","anchor":"start","fontSize":12.5,"fontWeight":"bold","color":"#000000","offset":-13},"spacing":22,
   "resolve":{"scale":{"color":"independent","xOffset":"independent"},"legend":{"color":"independent"}},
   "hconcat":[
    {"title":"Chlorhexidine group","width":190,"height":78,"transform":[{"filter":"datum.p=='E2a'"}],"mark":"bar","encoding":{"x":{"field":"m","type":"nominal","title":"MIC in [est. µg/ml] derived from octenidine stock solution","scale":{"domain":["4,0","6,0","8,0","12,0","16,0","24,0","32,0","40,0"]}},"xOffset":{"field":"s","type":"nominal"},"y":{"field":"v","type":"quantitative","title":"Percentage of bacterial isolates","scale":{"domain":[0,100]},"axis":{"labelExpr":"datum.value + '%'"}},"color":{"field":"s","type":"nominal","scale":{"range":["#bfbfbf","#7f7f7f"]},"legend":{"title":null}}}},
    {"title":"Octenidine group","width":190,"height":78,"transform":[{"filter":"datum.p=='E2b'"}],"mark":"bar","encoding":{"x":{"field":"m","type":"nominal","title":"MIC in [est. µg/ml] derived from octenidine stock solution","scale":{"domain":["4,0","6,0","8,0","12,0","16,0","24,0","32,0","40,0"]}},"xOffset":{"field":"s","type":"nominal"},"y":{"field":"v","type":"quantitative","title":"Percentage of bacterial isolates","scale":{"domain":[0,100]},"axis":{"labelExpr":"datum.value + '%'"}},"color":{"field":"s","type":"nominal","scale":{"range":["#bfbfbf","#7f7f7f"]},"legend":{"title":null}}}},
    {"title":"Routine care group","width":190,"height":78,"transform":[{"filter":"datum.p=='E2c'"}],"mark":"bar","encoding":{"x":{"field":"m","type":"nominal","title":"MIC in [est. µg/ml] derived from octenidine stock solution","scale":{"domain":["4,0","6,0","8,0","12,0","16,0","24,0","32,0","40,0"]}},"xOffset":{"field":"s","type":"nominal"},"y":{"field":"v","type":"quantitative","title":"Percentage of bacterial isolates","scale":{"domain":[0,100]},"axis":{"labelExpr":"datum.value + '%'"}},"color":{"field":"s","type":"nominal","scale":{"range":["#bfbfbf","#7f7f7f"]},"legend":{"title":null}}}}
   ]}
  ]}]}
],
"spacing":10,
"resolve":{"scale":{"color":"independent","xOffset":"independent"},"legend":{"color":"independent"}},
"config":{
 "font":"Lato",
 "view":{"stroke":null},
 "axis":{"labelFontSize":6.5,"labelColor":"#595959","titleFontSize":6.8,"titleColor":"#595959","titleFontWeight":"normal","ticks":false,"gridColor":"#d9d9d9","domainColor":"#d9d9d9","labelPadding":3},
 "axisX":{"labelAngle":0,"grid":false,"titlePadding":4},
 "axisY":{"domain":false,"tickCount":5,"titleFont":"Liberation Sans","titleColor":"#8c8c8c","titlePadding":4},
 "legend":{"orient":"bottom","direction":"horizontal","symbolType":"square","symbolSize":25,"symbolStrokeWidth":0,"labelFontSize":6.5,"labelColor":"#595959","columnPadding":12,"offset":13,"layout":{"bottom":{"anchor":"middle"}}},
 "title":{"fontSize":9.5,"fontWeight":"normal","color":"#595959","offset":4},
 "scale":{"barBandPaddingInner":0.45,"bandPaddingInner":0.45,"bandPaddingOuter":0.225,"offsetBandPaddingInner":0.08}
}
}
